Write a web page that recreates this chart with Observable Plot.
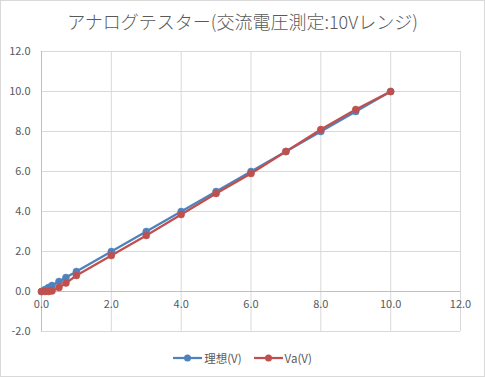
<!DOCTYPE html>
<html>
<head>
<meta charset="utf-8">
<script src="https://cdn.jsdelivr.net/npm/d3@7"></script>
<script src="https://cdn.jsdelivr.net/npm/@observablehq/plot@0.6"></script>
<style>
  html, body { margin: 0; padding: 0; background: #fff; }
  body { width: 485px; height: 377px; position: relative; overflow: hidden; font-family: "Noto Sans CJK JP", sans-serif; }
  #frame { position: absolute; left: 0; top: 0; width: 483px; height: 375px; border: 1px solid #d9d9d9; }
  #title { position: absolute; left: 0; top: 8px; width: 485px; text-align: center; font-size: 18px; font-weight: 300; color: #595959; line-height: 26px; }
  #chart { position: absolute; left: 0; top: 40px; }
  #legend { position: absolute; left: 0; top: 349px; width: 485px; height: 18px; display: flex; justify-content: center; align-items: center; font-size: 11.5px; color: #595959; }
  .item { display: flex; align-items: center; margin: 0 6px; }
  .item svg { margin-right: 2px; }
</style>
</head>
<body>
<div id="frame"></div>
<div id="title">アナログテスター(交流電圧測定:10Vレンジ)</div>
<div id="chart"></div>
<div id="legend"></div>
<script>
const xValues = [0, 0.1, 0.2, 0.3, 0.5, 0.7, 1, 2, 3, 4, 5, 6, 7, 8, 9, 10];
const idealValues = [0, 0.1, 0.2, 0.3, 0.5, 0.7, 1, 2, 3, 4, 5, 6, 7, 8, 9, 10];
const vaValues = [0, 0, 0, 0.03, 0.2, 0.42, 0.8, 1.8, 2.8, 3.85, 4.9, 5.9, 7.0, 8.1, 9.1, 10.0];
const xTicks = [0, 2, 4, 6, 8, 10, 12];
const yTicks = [-2, 0, 2, 4, 6, 8, 10, 12];
const seriesNames = ["理想(V)", "Va(V)"];
const seriesColors = ["#4f81bd", "#c0504d"];

const series = [idealValues, vaValues].map((vals, i) =>
  xValues.map((x, j) => ({ x, y: vals[j], name: seriesNames[i] })));

const fontFamily = '"Noto Sans CJK JP", sans-serif';

const chart = Plot.plot({
  width: 485,
  height: 300,
  marginLeft: 41,
  marginRight: 25,
  marginTop: 11,
  marginBottom: 9,
  style: { fontFamily, fontSize: "11px", color: "#595959", background: "transparent", overflow: "visible" },
  x: { domain: [0, 12], ticks: xTicks },
  y: { domain: [-2, 12], ticks: yTicks },
  marks: [
    Plot.gridX(xTicks, { stroke: "#d9d9d9", strokeOpacity: 1 }),
    Plot.gridY(yTicks, { stroke: "#d9d9d9", strokeOpacity: 1 }),
    Plot.ruleX([0], { stroke: "#bfbfbf" }),
    Plot.ruleY([0], { stroke: "#bfbfbf" }),
    Plot.axisY(yTicks, { tickSize: 0, tickPadding: 11, tickFormat: d => d.toFixed(1), fill: "#595959", fontSize: 11, label: null }),
    Plot.axisX({ ticks: [], label: null, tickSize: 0 }),
    Plot.text(xTicks, { x: d => d, y: () => 0, text: d => d.toFixed(1), dy: 13, fill: "#595959", fontSize: 11 }),
    ...series.map((s, i) => Plot.line(s, { x: "x", y: "y", stroke: seriesColors[i], strokeWidth: 2.25 })),
    ...series.map((s, i) => Plot.dot(s, { x: "x", y: "y", r: 3.5, fill: seriesColors[i], stroke: seriesColors[i], strokeWidth: 0.5 }))
  ]
});
document.getElementById("chart").appendChild(chart);

const legend = document.getElementById("legend");
seriesNames.forEach((name, i) => {
  const item = document.createElement("div");
  item.className = "item";
  item.innerHTML = `<svg width="29" height="10"><line x1="0" y1="5" x2="29" y2="5" stroke="${seriesColors[i]}" stroke-width="2.25"/><circle cx="14.5" cy="5" r="3.5" fill="${seriesColors[i]}"/></svg><span>${name}</span>`;
  legend.appendChild(item);
});
</script>
</body>
</html>
